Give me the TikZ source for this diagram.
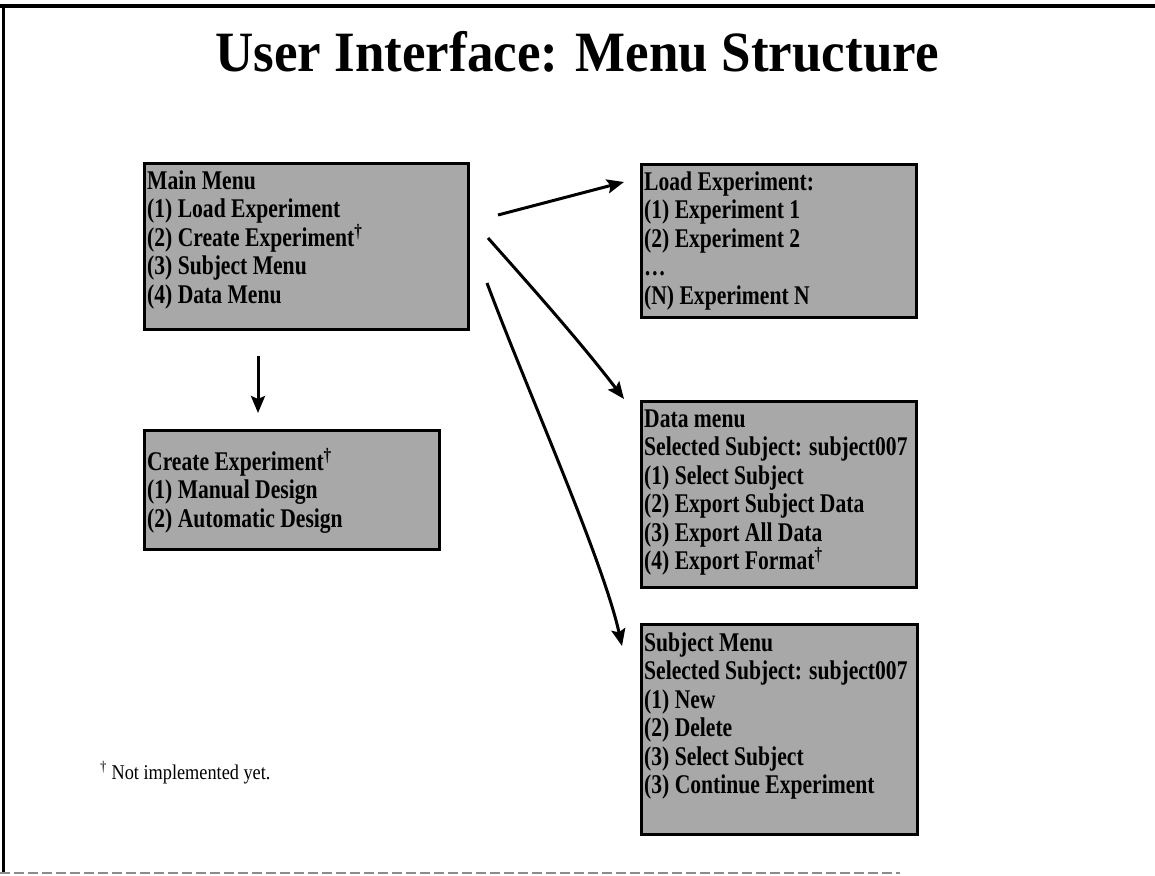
\documentclass[tikz,border=0pt]{standalone}
\usepackage{fontspec}
\setmainfont{Liberation Serif}
\newfontfamily\menufont[FakeStretch=0.8]{Liberation Serif}
\newfontfamily\titlefont[FakeStretch=0.93]{Liberation Serif}
\newfontfamily\notefont[FakeStretch=0.87]{Liberation Serif}
\usetikzlibrary{arrows.meta}
\definecolor{boxgray}{gray}{0.66}
\definecolor{framegray}{gray}{0.55}
\begin{document}
\begin{tikzpicture}[x=1pt,y=-1pt,
  menubox/.style={draw=black, line width=3pt, fill=boxgray, anchor=north west, inner sep=0pt},
  menutext/.style={anchor=north west, align=left, inner sep=0pt, font=\menufont\fontsize{27}{28.5}\selectfont\bfseries},
  arr/.style={line width=3pt, -{Stealth[length=17pt,width=14pt,inset=3pt]}},
  titlestyle/.style={anchor=base, inner sep=0pt, font=\titlefont\fontsize{57}{60}\selectfont\bfseries},
  notestyle/.style={anchor=base west, inner sep=0pt, font=\notefont\fontsize{21}{24}\selectfont}]
\useasboundingbox (0,0) rectangle (1155,875);
% frame
\draw[line width=4pt] (0,6) -- (1155,6);
\draw[line width=3pt] (3,6) -- (3,873);
\draw[framegray, line width=1.5pt, dash pattern=on 10pt off 4pt] (0,873) -- (900,873);
% title
\node[titlestyle] (title) at (577,71) {User Interface: Menu Structure};
% boxes
\node[menubox, minimum width=324pt, minimum height=166pt] (main) at (143,162) {};
\node[menubox, minimum width=295pt, minimum height=119pt] (create) at (143,429) {};
\node[menubox, minimum width=275pt, minimum height=153pt] (load) at (640,163) {};
\node[menubox, minimum width=275pt, minimum height=186pt] (data) at (640,400) {};
\node[menubox, minimum width=276pt, minimum height=210pt] (subject) at (640,623) {};
% texts
\node[menutext] (maint) at (147,170) {\rule{0pt}{19pt}Main Menu\\(1) Load Experiment\\(2) Create Experiment\textsuperscript{†}\\(3) Subject Menu\\(4) Data Menu};
\node[menutext] (createt) at (147,448) {\rule{0pt}{19pt}Create Experiment\textsuperscript{†}\\(1) Manual Design\\(2) Automatic Design};
\node[menutext] (loadt) at (644,171) {\rule{0pt}{19pt}Load Experiment:\\(1) Experiment 1\\(2) Experiment 2\\\dots\\(N) Experiment N};
\node[menutext] (datat) at (644,408) {\rule{0pt}{19pt}Data menu\\Selected Subject: subject007\\(1) Select Subject\\(2) Export Subject Data\\(3) Export All Data\\(4) Export Format\textsuperscript{†}};
\node[menutext] (subjectt) at (644,632) {\rule{0pt}{19pt}Subject Menu\\Selected Subject: subject007\\(1) New\\(2) Delete\\(3) Select Subject\\(3) Continue Experiment};
% footnote
\node[notestyle] (note) at (100,779) {\textsuperscript{†} Not implemented yet.};
% arrow end points
\coordinate (a1s) at (498,215);
\coordinate (a1e) at (624,182);
\coordinate (a2s) at (488,238);
\coordinate (a2e) at (624,399);
\coordinate (a3s) at (487,283);
\coordinate (a3e) at (622,646);
\coordinate (a4s) at (258,356);
\coordinate (a4e) at (258,413);
\draw[arr] (a1s) -- (a1e);
\draw[arr] (a2s) .. controls (536,292) and (582,344) .. (a2e);
\draw[arr] (a3s) .. controls (527,390) and (603,560) .. (a3e);
\draw[arr] (a4s) -- (a4e);
\end{tikzpicture}
\end{document}
